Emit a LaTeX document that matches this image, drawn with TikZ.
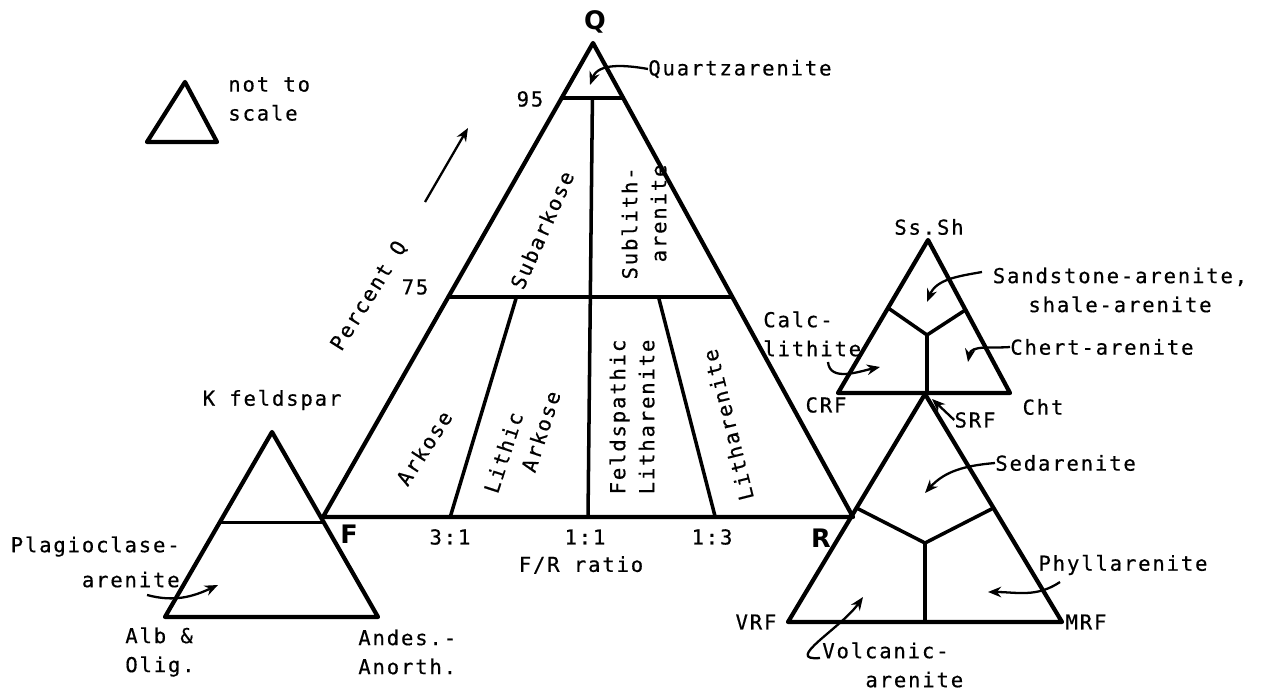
\documentclass[tikz,border=0pt]{standalone}
\usepackage{fontspec}
\setmainfont{DejaVu Sans Mono}[LetterSpace=9, FakeBold=0.5]
\newfontfamily\cornerfont{DejaVu Sans}
\usepackage{tikz}
\usetikzlibrary{arrows.meta, calc}
\newcommand{\lblsize}{\fontsize{11.7pt}{16.5pt}\selectfont}
\tikzset{
    edge/.style={line width=2.4pt, line join=round, line cap=round},
    divide/.style={line width=2pt, line cap=round},
    lbl/.style={inner sep=0pt, font=\lblsize},
    corner/.style={inner sep=0pt, font=\fontsize{14.5pt}{16pt}\cornerfont\bfseries},
}

\begin{document}
\begin{tikzpicture}[
    x=0.2mm, y=0.2mm,
    every node/.style={lbl},
    arr/.style={line width=1.3pt, -{Stealth[length=7.5pt, width=6pt]}},
]
    \useasboundingbox (0,0) rectangle (1265,691);

    % Legend
    \coordinate (lg-top) at (185,609);
    \coordinate (lg-l) at (147,549);
    \coordinate (lg-r) at (217,549);
    \draw[edge] (lg-top) -- (lg-l) -- (lg-r) -- cycle;
    \node[anchor=west, align=left] (noscale) at (228,592) {not to\\scale};

    % Main triangle
    \coordinate (Q) at (593,648);
    \coordinate (F) at (323,174);
    \coordinate (R) at (853,174);
    \draw[edge] (Q) -- (F) -- (R) -- cycle;
    \node[corner] (lq) at (595,669) {Q};
    \node[corner] (lf) at (349,157) {F};
    \node[corner] (lr) at (821,153) {R};

    % 95 and 75 lines
    \draw[divide] ($(Q)!0.116!(F)$) -- ($(Q)!0.116!(R)$);
    \draw[divide] ($(Q)!0.536!(F)$) -- ($(Q)!0.536!(R)$);
    \node (p95) at (530,592) {95};
    \node (p75) at (415,404) {75};

    % F/R ratio lines
    \coordinate (b31) at ($(F)!0.24!(R)$);
    \coordinate (b11) at ($(F)!0.5!(R)$);
    \coordinate (b13) at ($(F)!0.74!(R)$);
    \draw[divide] ($(Q)!0.116!(b11)$) -- (b11);
    \draw[divide] ($(Q)!0.536!(b31)$) -- (b31);
    \draw[divide] ($(Q)!0.536!(b13)$) -- (b13);
    \node (r31) at (450,154) {3:1};
    \node (r11) at (585,154) {1:1};
    \node (r13) at (712,154) {1:3};
    \node (ratio) at (581,126) {F/R ratio};

    % Percent Q
    \node[rotate=58] (pctq) at (369,395) {Percent Q};
    \coordinate (pq-from) at (425,489);
    \coordinate (pq-to) at (468,563);
    \draw[arr] (pq-from) -- (pq-to);

    % Field names
    \node[anchor=west] (qzar) at (648,622) {Quartzarenite};
    \coordinate (qz-tip) at (590,606);
    \draw[arr] (qzar.west) to[out=170, in=70] (qz-tip);
    \node[rotate=66] (subark) at (542,461) {Subarkose};
    \node[rotate=90, align=left] (sublith) at (644,469) {Sublith-\\\hspace*{9.7pt}arenite};
    \node[rotate=57] (arkose) at (424,243) {Arkose};
    \node[rotate=72, align=left] (lithark) at (522,249) {Lithic\\\hspace*{18pt}Arkose};
    \node[rotate=90, align=center] (feldlith) at (632,274) {Feldspathic\\Litharenite};
    \node[rotate=104] (lith) at (728,266) {Litharenite};

    % Feldspar triangle
    \coordinate (Kf) at (272,259);
    \coordinate (Ab) at (165,74);
    \coordinate (An) at (378,74);
    \draw[edge] (Kf) -- (Ab) -- (An) -- cycle;
    \draw[divide] ($(Kf)!0.49!(Ab)$) -- ($(Kf)!0.49!(An)$);
    \node (kfeld) at (272,291) {K feldspar};
    \node[anchor=east, align=right] (plag) at (180,129) {Plagioclase-\\[3.4pt]arenite};
    \coordinate (pl-from) at (147,96);
    \coordinate (pl-tip) at (218,106);
    \draw[arr] (pl-from) to[out=-15, in=205] (pl-tip);
    \node[anchor=west, align=left] (alb) at (125,39) {Alb \&\\Olig.};
    \node[anchor=west, align=left] (andes) at (358,39) {Andes.-\\Anorth.};

    % Upper rock fragment triangle
    \coordinate (Ss) at (928,451);
    \coordinate (Crf) at (838,298);
    \coordinate (Cht) at (1010,298);
    \coordinate (j1) at (927,356);
    \draw[edge] (Ss) -- (Crf) -- (Cht) -- cycle;
    \draw[divide] ($(Ss)!0.444!(Crf)$) -- (j1) -- ($(Ss)!0.457!(Cht)$);
    \draw[divide] (j1) -- (j1 |- Crf);
    \node (lss) at (929,464) {Ss.Sh};
    \node (lcrf) at (826,286) {CRF};
    \node (lcht) at (1043,284) {Cht};
    \node[align=center] (sand) at (1120,401) {Sandstone-arenite,\\shale-arenite};
    \coordinate (sa-from) at (982,419);
    \coordinate (sa-tip) at (927,389);
    \draw[arr] (sa-from) to[out=190, in=68] (sa-tip);
    \node[anchor=west] (chert) at (1010,344) {Chert-arenite};
    \coordinate (ch-tip) at (968,329);
    \draw[arr] (chert.west) to[out=185, in=80] (ch-tip);
    \node[anchor=west, align=left] (calc) at (763,357) {Calc-\\lithite};
    \coordinate (ca-from) at (828,329);
    \coordinate (ca-tip) at (880,324);
    \draw[arr] (ca-from) to[out=275, in=192] (ca-tip);

    % Lower rock fragment triangle
    \coordinate (Srf) at (925,297);
    \coordinate (Vrf) at (788,69);
    \coordinate (Mrf) at (1062,69);
    \coordinate (j2) at (925,148);
    \draw[edge] (Srf) -- (Vrf) -- (Mrf) -- cycle;
    \draw[divide] ($(Srf)!0.5!(Vrf)$) -- (j2) -- ($(Srf)!0.5!(Mrf)$);
    \draw[divide] (j2) -- (j2 |- Vrf);
    \node (lsrf) at (975,271) {SRF};
    \coordinate (srf-tip) at (932,292);
    \draw[arr] (lsrf.west) -- (srf-tip);
    \node (lvrf) at (756,69) {VRF};
    \node (lmrf) at (1086,69) {MRF};
    \node[anchor=west] (sed) at (995,228) {Sedarenite};
    \coordinate (sd-tip) at (925,198);
    \draw[arr] (sed.west) to[out=185, in=48] (sd-tip);
    \node (phyl) at (1123,126) {Phyllarenite};
    \coordinate (ph-from) at (1060,109);
    \coordinate (ph-tip) at (988,99);
    \draw[arr] (ph-from) to[out=214, in=0] (ph-tip);
    \node[anchor=west, align=left] (volc) at (822,26) {Volcanic-\\\hspace*{24.5pt}arenite};
    \coordinate (vo-from) at (820,33);
    \coordinate (vo-tip) at (863,94);
    \draw[arr] (vo-from) to[out=185, in=235, looseness=1.3] (vo-tip);
\end{tikzpicture}
\end{document}
